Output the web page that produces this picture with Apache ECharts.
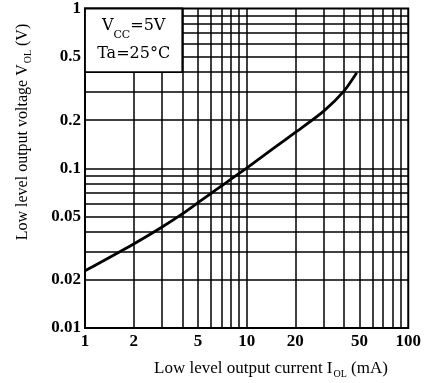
<!DOCTYPE html>
<html><head><meta charset="utf-8">
<script src="https://cdn.jsdelivr.net/npm/echarts@6/dist/echarts.min.js"></script>
<style>html,body{margin:0;padding:0;background:#fff}#c{width:424px;height:383px}</style>
</head><body><div id="c"></div>
<script>
// Data
const currentMA = [1, 2, 3, 4, 5, 6, 7, 8, 10, 15, 20, 30, 40, 48];
const voltageV = [0.0228, 0.0336, 0.0429, 0.0518, 0.0609, 0.0694, 0.0776, 0.0854, 0.1003, 0.1354, 0.1675, 0.228, 0.304, 0.396];
const xTickLabels = [1, 2, 5, 10, 20, 50, 100];
const yTickLabels = [0.01, 0.02, 0.05, 0.1, 0.2, 0.5, 1];
const xGridLines = [2, 3, 4, 5, 6, 7, 8, 9, 10, 20, 30, 40, 50, 60, 70, 80, 90];
const yGridLines = [0.02, 0.03, 0.04, 0.05, 0.06, 0.07, 0.08, 0.09, 0.1, 0.2, 0.3, 0.4, 0.5, 0.6, 0.7, 0.8, 0.9];
const noteBoxX = [1, 4];
const noteBoxY = [0.4, 1];

const serif = '"Liberation Serif", "DejaVu Serif", serif';
function nearest(arr, v) {
  let best = arr[0];
  arr.forEach(a => { if (Math.abs(Math.log10(a) - Math.log10(v)) < Math.abs(Math.log10(best) - Math.log10(v))) best = a; });
  return String(best);
}

const chart = echarts.init(document.getElementById('c'), null, {renderer: 'canvas'});
chart.setOption({
  animation: false,
  backgroundColor: '#fff',
  grid: {left: 85, right: 13, top: 6, bottom: 55, show: true, borderColor: '#000', borderWidth: 2, backgroundColor: 'transparent'},
  xAxis: {
    type: 'log', logBase: 10, min: 1, max: 100,
    axisLine: {show: false}, axisTick: {show: false}, splitLine: {show: false},
    axisLabel: {
      customValues: xTickLabels,
      fontFamily: serif, fontWeight: 'bold', fontSize: 17, color: '#000', margin: 5,
      formatter: v => nearest(xTickLabels, v)
    }
  },
  yAxis: {
    type: 'log', logBase: 10, min: 0.01, max: 1,
    axisLine: {show: false}, axisTick: {show: false}, splitLine: {show: false},
    axisLabel: {
      customValues: yTickLabels,
      fontFamily: serif, fontWeight: 'bold', fontSize: 17, color: '#000', margin: 4,
      formatter: v => nearest(yTickLabels, v)
    }
  },
  graphic: [
    {
      type: 'text', x: 271, y: 369,
      style: {
        text: '{n|Low level output current I}{s|OL}{n| (mA)}',
        align: 'center', verticalAlign: 'middle',
        rich: {
          n: {fontFamily: serif, fontSize: 17, fill: '#000', lineHeight: 20},
          s: {fontFamily: serif, fontSize: 10, fill: '#000', lineHeight: 20, verticalAlign: 'bottom', padding: [5, 0, 0, 1]}
        }
      }
    },
    {
      type: 'text', x: 23, y: 132, rotation: Math.PI / 2,
      style: {
        text: '{n|Low level output voltage V}{s|OL}{n| (V)}',
        align: 'center', verticalAlign: 'middle',
        rich: {
          n: {fontFamily: serif, fontSize: 16, fill: '#000', lineHeight: 20},
          s: {fontFamily: serif, fontSize: 10, fill: '#000', lineHeight: 20, verticalAlign: 'bottom', padding: [5, 0, 0, 1]}
        }
      }
    }
  ],
  series: [
    {
      type: 'line', data: [], z: 1, silent: true,
      markLine: {
        silent: true, symbol: 'none', animation: false, z: 1,
        lineStyle: {color: '#000', width: 1.5, type: 'solid'},
        label: {show: false},
        data: xGridLines.map(v => ({xAxis: v})).concat(yGridLines.map(v => ({yAxis: v})))
      }
    },
    {
      type: 'line', z: 5, smooth: 0.25, showSymbol: false, silent: true,
      lineStyle: {color: '#000', width: 2.8},
      data: currentMA.map((x, i) => [x, voltageV[i]])
    },
    {
      type: 'line', data: [], z: 10, silent: true,
      markArea: {
        silent: true, z: 50,
        itemStyle: {color: '#fff', opacity: 1, borderColor: '#000', borderWidth: 1.8},
        label: {
          show: true, position: 'inside',
          formatter: '{n|V}{s|CC}{n|=5V}\n{n|Ta=25°C}',
          rich: {
            n: {fontFamily: '"DejaVu Serif", serif', fontSize: 16, color: '#000', lineHeight: 28},
            s: {fontFamily: '"DejaVu Serif", serif', fontSize: 11, color: '#000', lineHeight: 28, verticalAlign: 'bottom', padding: [6, 0, 0, 0]}
          }
        },
        data: [[{xAxis: noteBoxX[0], yAxis: noteBoxY[1]}, {xAxis: noteBoxX[1], yAxis: noteBoxY[0]}]]
      }
    }
  ]
});
</script>
</body></html>
